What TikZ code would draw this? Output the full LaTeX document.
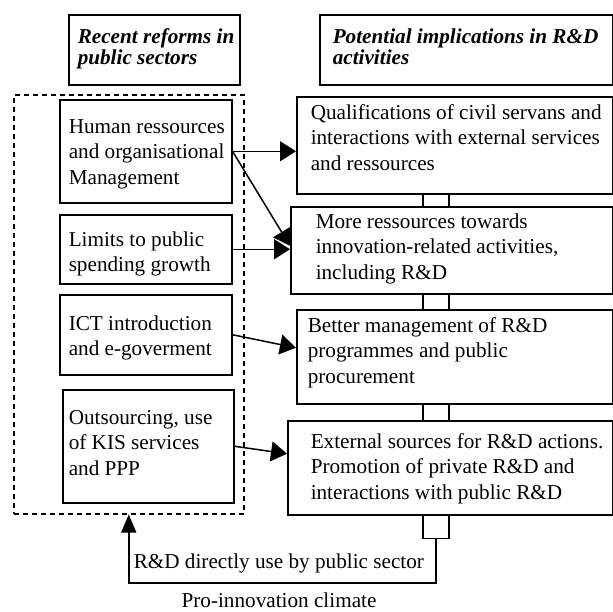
\documentclass[tikz,border=0pt]{standalone}
\usepackage{fontspec}
\setmainfont{Liberation Serif}
\usetikzlibrary{arrows.meta}

\tikzset{
  box/.style={draw,fill=white,anchor=north west,inner sep=0pt},
  txt/.style={anchor=base west,align=left,inner sep=0pt,font=\fontsize{21.2}{25.5}\selectfont},
  headtxt/.style={txt,font=\fontsize{21.2}{21}\selectfont\bfseries\itshape},
  arr/.style={-{Triangle[length=16pt,width=20pt]}}
}

\begin{document}
\begin{tikzpicture}[x=1pt,y=-1pt,line width=1.5pt]
  \useasboundingbox (0,0) rectangle (613,611);
  % headings (text placed at baseline of last line)
  \node[box,minimum width=171,minimum height=70] (hrefbox) at (68,14) {};
  \node[headtxt] (hreform) at (77,64) {Recent reforms in\\public sectors};
  \node[box,minimum width=293,minimum height=70] (hpotbox) at (319,14) {};
  \node[headtxt] (hpot) at (332,64) {Potential implications in R\&D\\activities};
  % reforms (left column)
  \node[box,dash pattern=on 5pt off 4pt,minimum width=230,minimum height=419] (reforms) at (13,94) {};
  \node[box,minimum width=172,minimum height=103] (hum) at (59,99) {};
  \node[txt] (humtxt) at (68,184) {Human ressources\\and organisational\\Management};
  \node[box,minimum width=172,minimum height=69] (lim) at (59,214) {};
  \node[txt] (limtxt) at (68,271.5) {Limits to public\\spending growth};
  \node[box,minimum width=172,minimum height=80] (ict) at (59,294) {};
  \node[txt] (icttxt) at (68,355.5) {ICT introduction\\and e-goverment};
  \node[box,minimum width=171,minimum height=113] (out) at (62,389) {};
  \node[txt] (outtxt) at (68,475) {Outsourcing, use\\of KIS services\\and PPP};
  % implications (right column)
  \node[draw,fill=white,inner sep=0pt,anchor=south,minimum width=26,minimum height=346] (pillar) at (436,539) {};
  \node[box,minimum width=316,minimum height=97] (qual) at (296,96) {};
  \node[txt] (qualtxt) at (310,170) {Qualifications of civil servans and\\interactions with external services\\and ressources};
  \node[box,minimum width=322,minimum height=87] (more) at (290,206) {};
  \node[txt] (moretxt) at (315,279) {More ressources towards\\innovation-related activities,\\including R\&D};
  \node[box,minimum width=316,minimum height=94] (better) at (296,309) {};
  \node[txt] (bettertxt) at (307,383) {Better management of R\&D\\programmes and public\\procurement};
  \node[box,minimum width=325,minimum height=94] (ext) at (287,420) {};
  \node[txt] (exttxt) at (310,499) {External sources for R\&D actions.\\Promotion of private R\&D and\\interactions with public R\&D};
  % links
  \draw[arr] (hum.east) -- (hum.east -| qual.west);
  \draw[arr] (hum.east) -- ([yshift=4.5]more.west);
  \draw[arr] (lim.east) -- (lim.east -| more.west);
  \draw[arr] (ict.east) -- ([yshift=9]better.west);
  \draw[arr] (out.east) -- ([yshift=14]ext.west);
  % feedback
  \draw[-{Triangle[length=18pt,width=15pt]}] (pillar.south) -- ++(0,44) -| (reforms.south);
  \node[txt] (direct) at (133,568) {R\&D directly use by public sector};
  \node[txt,anchor=base] (climate) at (279,607) {Pro-innovation climate};
\end{tikzpicture}
\end{document}
